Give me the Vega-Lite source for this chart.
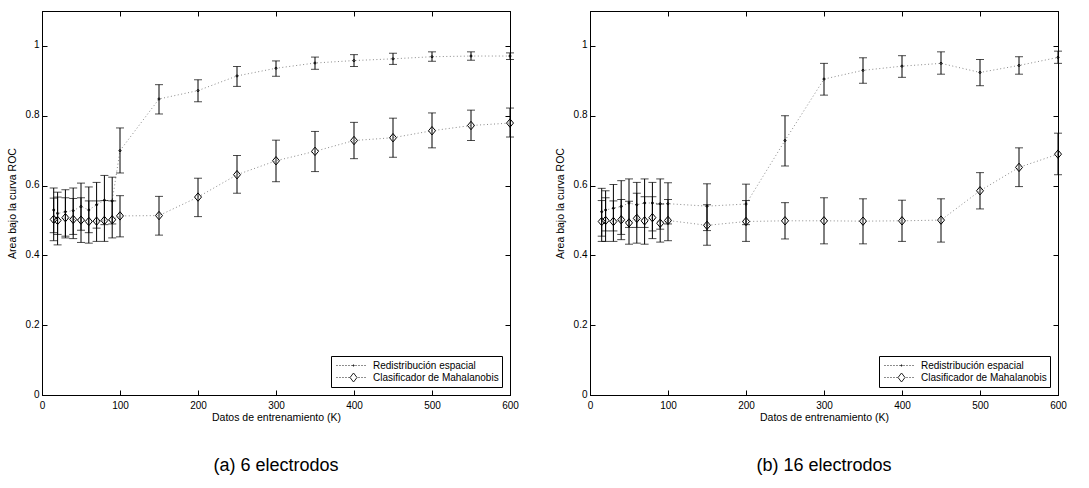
{
  "$schema": "https://vega.github.io/schema/vega-lite/v6.json",
  "padding": {"left": 6, "top": 10, "right": 4, "bottom": 0},
  "background": "white",
  "config": {
    "font": "Liberation Sans",
    "view": {"stroke": "black", "strokeWidth": 1},
    "axis": {
      "domainColor": "black", "domainWidth": 1, "tickColor": "black", "tickWidth": 1,
      "labelColor": "black", "titleColor": "black", "labelFontSize": 10, "titleFontSize": 10.5,
      "titleFontWeight": "normal", "tickSize": -5, "grid": false, "labelPadding": 5, "titlePadding": 3
    },
    "axisLeft": {"labelPadding": 8, "titlePadding": 8, "labelOffset": -1},
    "axisBottom": {"labelPadding": 10, "titlePadding": 2},
    "legend": {"orient": "bottom-right", "title": null, "offset": 8, "padding": 3, "strokeColor": "black", "fillColor": "white", "cornerRadius": 0,
      "labelFontSize": 10, "labelColor": "black", "labelLimit": 300, "symbolSize": 144, "labelOffset": 26, "rowPadding": 0,
      "symbolStrokeWidth": 1, "symbolStrokeColor": "#222", "symbolFillColor": "transparent"},
    "title": {"fontSize": 18, "fontWeight": "normal", "color": "black", "orient": "bottom", "offset": 34}
  },
  "data": {"values": [
    {"panel":"a","serie":"Redistribución espacial","x":15,"y":0.530,"lo":0.465,"hi":0.593},
    {"panel":"a","serie":"Redistribución espacial","x":20,"y":0.520,"lo":0.460,"hi":0.581},
    {"panel":"a","serie":"Redistribución espacial","x":30,"y":0.525,"lo":0.455,"hi":0.588},
    {"panel":"a","serie":"Redistribución espacial","x":40,"y":0.528,"lo":0.460,"hi":0.593},
    {"panel":"a","serie":"Redistribución espacial","x":50,"y":0.540,"lo":0.472,"hi":0.607},
    {"panel":"a","serie":"Redistribución espacial","x":60,"y":0.530,"lo":0.465,"hi":0.596},
    {"panel":"a","serie":"Redistribución espacial","x":70,"y":0.545,"lo":0.478,"hi":0.609},
    {"panel":"a","serie":"Redistribución espacial","x":80,"y":0.558,"lo":0.488,"hi":0.629},
    {"panel":"a","serie":"Redistribución espacial","x":90,"y":0.556,"lo":0.490,"hi":0.624},
    {"panel":"a","serie":"Redistribución espacial","x":100,"y":0.700,"lo":0.636,"hi":0.765},
    {"panel":"a","serie":"Redistribución espacial","x":150,"y":0.848,"lo":0.805,"hi":0.889},
    {"panel":"a","serie":"Redistribución espacial","x":200,"y":0.872,"lo":0.840,"hi":0.903},
    {"panel":"a","serie":"Redistribución espacial","x":250,"y":0.914,"lo":0.884,"hi":0.941},
    {"panel":"a","serie":"Redistribución espacial","x":300,"y":0.936,"lo":0.913,"hi":0.957},
    {"panel":"a","serie":"Redistribución espacial","x":350,"y":0.951,"lo":0.933,"hi":0.968},
    {"panel":"a","serie":"Redistribución espacial","x":400,"y":0.958,"lo":0.941,"hi":0.975},
    {"panel":"a","serie":"Redistribución espacial","x":450,"y":0.963,"lo":0.947,"hi":0.979},
    {"panel":"a","serie":"Redistribución espacial","x":500,"y":0.969,"lo":0.956,"hi":0.983},
    {"panel":"a","serie":"Redistribución espacial","x":550,"y":0.971,"lo":0.959,"hi":0.983},
    {"panel":"a","serie":"Redistribución espacial","x":600,"y":0.971,"lo":0.961,"hi":0.980},
    {"panel":"a","serie":"Clasificador de Mahalanobis","x":15,"y":0.503,"lo":0.442,"hi":0.564},
    {"panel":"a","serie":"Clasificador de Mahalanobis","x":20,"y":0.500,"lo":0.430,"hi":0.567},
    {"panel":"a","serie":"Clasificador de Mahalanobis","x":30,"y":0.508,"lo":0.450,"hi":0.565},
    {"panel":"a","serie":"Clasificador de Mahalanobis","x":40,"y":0.503,"lo":0.448,"hi":0.563},
    {"panel":"a","serie":"Clasificador de Mahalanobis","x":50,"y":0.501,"lo":0.437,"hi":0.565},
    {"panel":"a","serie":"Clasificador de Mahalanobis","x":60,"y":0.497,"lo":0.435,"hi":0.556},
    {"panel":"a","serie":"Clasificador de Mahalanobis","x":70,"y":0.498,"lo":0.440,"hi":0.556},
    {"panel":"a","serie":"Clasificador de Mahalanobis","x":80,"y":0.500,"lo":0.440,"hi":0.557},
    {"panel":"a","serie":"Clasificador de Mahalanobis","x":90,"y":0.502,"lo":0.450,"hi":0.556},
    {"panel":"a","serie":"Clasificador de Mahalanobis","x":100,"y":0.513,"lo":0.453,"hi":0.571},
    {"panel":"a","serie":"Clasificador de Mahalanobis","x":150,"y":0.514,"lo":0.458,"hi":0.569},
    {"panel":"a","serie":"Clasificador de Mahalanobis","x":200,"y":0.567,"lo":0.511,"hi":0.621},
    {"panel":"a","serie":"Clasificador de Mahalanobis","x":250,"y":0.631,"lo":0.578,"hi":0.686},
    {"panel":"a","serie":"Clasificador de Mahalanobis","x":300,"y":0.671,"lo":0.611,"hi":0.730},
    {"panel":"a","serie":"Clasificador de Mahalanobis","x":350,"y":0.698,"lo":0.640,"hi":0.755},
    {"panel":"a","serie":"Clasificador de Mahalanobis","x":400,"y":0.729,"lo":0.677,"hi":0.781},
    {"panel":"a","serie":"Clasificador de Mahalanobis","x":450,"y":0.737,"lo":0.681,"hi":0.793},
    {"panel":"a","serie":"Clasificador de Mahalanobis","x":500,"y":0.757,"lo":0.708,"hi":0.808},
    {"panel":"a","serie":"Clasificador de Mahalanobis","x":550,"y":0.772,"lo":0.729,"hi":0.816},
    {"panel":"a","serie":"Clasificador de Mahalanobis","x":600,"y":0.779,"lo":0.739,"hi":0.822},
    {"panel":"b","serie":"Redistribución espacial","x":15,"y":0.525,"lo":0.455,"hi":0.592},
    {"panel":"b","serie":"Redistribución espacial","x":20,"y":0.530,"lo":0.470,"hi":0.585},
    {"panel":"b","serie":"Redistribución espacial","x":30,"y":0.535,"lo":0.470,"hi":0.603},
    {"panel":"b","serie":"Redistribución espacial","x":40,"y":0.540,"lo":0.460,"hi":0.614},
    {"panel":"b","serie":"Redistribución espacial","x":50,"y":0.550,"lo":0.480,"hi":0.619},
    {"panel":"b","serie":"Redistribución espacial","x":60,"y":0.545,"lo":0.480,"hi":0.609},
    {"panel":"b","serie":"Redistribución espacial","x":70,"y":0.550,"lo":0.480,"hi":0.619},
    {"panel":"b","serie":"Redistribución espacial","x":80,"y":0.550,"lo":0.470,"hi":0.609},
    {"panel":"b","serie":"Redistribución espacial","x":90,"y":0.548,"lo":0.475,"hi":0.619},
    {"panel":"b","serie":"Redistribución espacial","x":100,"y":0.548,"lo":0.490,"hi":0.608},
    {"panel":"b","serie":"Redistribución espacial","x":150,"y":0.541,"lo":0.471,"hi":0.605},
    {"panel":"b","serie":"Redistribución espacial","x":200,"y":0.547,"lo":0.488,"hi":0.604},
    {"panel":"b","serie":"Redistribución espacial","x":250,"y":0.729,"lo":0.656,"hi":0.800},
    {"panel":"b","serie":"Redistribución espacial","x":300,"y":0.905,"lo":0.859,"hi":0.950},
    {"panel":"b","serie":"Redistribución espacial","x":350,"y":0.930,"lo":0.893,"hi":0.966},
    {"panel":"b","serie":"Redistribución espacial","x":400,"y":0.942,"lo":0.910,"hi":0.972},
    {"panel":"b","serie":"Redistribución espacial","x":450,"y":0.950,"lo":0.919,"hi":0.983},
    {"panel":"b","serie":"Redistribución espacial","x":500,"y":0.924,"lo":0.886,"hi":0.961},
    {"panel":"b","serie":"Redistribución espacial","x":550,"y":0.944,"lo":0.919,"hi":0.969},
    {"panel":"b","serie":"Redistribución espacial","x":600,"y":0.967,"lo":0.950,"hi":0.985},
    {"panel":"b","serie":"Clasificador de Mahalanobis","x":15,"y":0.497,"lo":0.440,"hi":0.557},
    {"panel":"b","serie":"Clasificador de Mahalanobis","x":20,"y":0.500,"lo":0.440,"hi":0.565},
    {"panel":"b","serie":"Clasificador de Mahalanobis","x":30,"y":0.497,"lo":0.440,"hi":0.556},
    {"panel":"b","serie":"Clasificador de Mahalanobis","x":40,"y":0.502,"lo":0.445,"hi":0.560},
    {"panel":"b","serie":"Clasificador de Mahalanobis","x":50,"y":0.493,"lo":0.432,"hi":0.555},
    {"panel":"b","serie":"Clasificador de Mahalanobis","x":60,"y":0.506,"lo":0.435,"hi":0.578},
    {"panel":"b","serie":"Clasificador de Mahalanobis","x":70,"y":0.499,"lo":0.432,"hi":0.568},
    {"panel":"b","serie":"Clasificador de Mahalanobis","x":80,"y":0.508,"lo":0.448,"hi":0.568},
    {"panel":"b","serie":"Clasificador de Mahalanobis","x":90,"y":0.492,"lo":0.438,"hi":0.547},
    {"panel":"b","serie":"Clasificador de Mahalanobis","x":100,"y":0.500,"lo":0.442,"hi":0.560},
    {"panel":"b","serie":"Clasificador de Mahalanobis","x":150,"y":0.486,"lo":0.429,"hi":0.545},
    {"panel":"b","serie":"Clasificador de Mahalanobis","x":200,"y":0.497,"lo":0.440,"hi":0.557},
    {"panel":"b","serie":"Clasificador de Mahalanobis","x":250,"y":0.499,"lo":0.447,"hi":0.551},
    {"panel":"b","serie":"Clasificador de Mahalanobis","x":300,"y":0.499,"lo":0.433,"hi":0.565},
    {"panel":"b","serie":"Clasificador de Mahalanobis","x":350,"y":0.498,"lo":0.433,"hi":0.562},
    {"panel":"b","serie":"Clasificador de Mahalanobis","x":400,"y":0.499,"lo":0.440,"hi":0.558},
    {"panel":"b","serie":"Clasificador de Mahalanobis","x":450,"y":0.501,"lo":0.438,"hi":0.562},
    {"panel":"b","serie":"Clasificador de Mahalanobis","x":500,"y":0.585,"lo":0.533,"hi":0.637},
    {"panel":"b","serie":"Clasificador de Mahalanobis","x":550,"y":0.652,"lo":0.597,"hi":0.708},
    {"panel":"b","serie":"Clasificador de Mahalanobis","x":600,"y":0.690,"lo":0.631,"hi":0.750}
  ]},
  "spacing": 35,
  "resolve": {"scale": {"x": "independent", "y": "independent", "shape": "independent"}, "legend": {"shape": "independent"}},
  "hconcat": [
    {
      "title": {"text": "(a) 6 electrodos"},
      "width": 468, "height": 384,
      "transform": [{"filter": "datum.panel === 'a'"}],
      "resolve": {"axis": {"x": "independent", "y": "independent"}, "scale": {"shape": "independent"}, "legend": {"shape": "independent"}},
      "layer": [
        {
          "mark": {"type": "line", "color": "#8a8a8a", "strokeDash": [1, 2.5], "strokeWidth": 1},
          "encoding": {
            "x": {"field": "x", "type": "quantitative", "scale": {"domain": [0, 600], "nice": false}, "axis": {"orient": "top", "values": [0,100,200,300,400,500,600], "labels": false, "title": null}},
            "y": {"field": "y", "type": "quantitative", "scale": {"domain": [0, 1.1], "nice": false, "zero": false}, "axis": {"orient": "right", "values": [0,0.2,0.4,0.6,0.8,1], "labels": false, "title": null}},
            "detail": {"field": "serie", "type": "nominal"}
          }
        },
        {
          "mark": {"type": "errorbar", "color": "black", "ticks": {"size": 8, "color": "black"}, "rule": {"strokeWidth": 1}},
          "encoding": {
            "x": {"field": "x", "type": "quantitative", "axis": null},
            "y": {"field": "lo", "type": "quantitative", "axis": null},
            "y2": {"field": "hi"},
            "detail": {"field": "serie", "type": "nominal"}
          }
        },
        {
          "mark": {"type": "point", "stroke": "black", "strokeWidth": 1, "opacity": 1, "fill": "transparent", "filled": false, "size": 49},
          "encoding": {
            "x": {"field": "x", "type": "quantitative", "axis": {"orient": "bottom", "values": [0,100,200,300,400,500,600], "labelFlush": false, "title": "Datos de entrenamiento (K)"}},
            "y": {"field": "y", "type": "quantitative", "axis": {"orient": "left", "values": [0,0.2,0.4,0.6,0.8,1], "format": "~g", "title": "Area bajo la curva ROC"}},
            "shape": {"field": "serie", "type": "nominal", "scale": {"domain": ["Redistribución espacial", "Clasificador de Mahalanobis"], "range": ["M-0.3,0a0.3,0.3 0 1,0 0.6,0a0.3,0.3 0 1,0 -0.6,0Z", "M0,-1.2L1,0L0,1.2L-1,0Z"]}, "legend": null}
          }
        },
        {
          "transform": [{"filter": "false"}],
          "mark": {"type": "point", "stroke": "#222", "strokeWidth": 1, "opacity": 1, "filled": false},
          "encoding": {
            "shape": {"field": "serie", "type": "nominal", "scale": {"domain": ["Redistribución espacial", "Clasificador de Mahalanobis"], "range": [
              "M-0.67,0h0.17M-0.17,0h0.17M0.33,0h0.17M0.83,0h0.17M1.33,0h0.17M1.83,0h0.17M2.5,0h0.17M3,0h0.17M3.5,0h0.17M4,0h0.17M2,0h0.34M2.17,-0.17v0.34",
              "M-0.67,0h0.17M-0.17,0h0.17M0.33,0h0.17M0.83,0h0.17M1.33,0h0.17M3,0h0.17M3.5,0h0.17M4,0h0.17M2.17,-0.75L2.75,0L2.17,0.75L1.59,0Z"]},
              "legend": {}}
          }
        }
      ]
    },
    {
      "title": {"text": "(b) 16 electrodos"},
      "width": 468, "height": 384,
      "transform": [{"filter": "datum.panel === 'b'"}],
      "resolve": {"axis": {"x": "independent", "y": "independent"}, "scale": {"shape": "independent"}, "legend": {"shape": "independent"}},
      "layer": [
        {
          "mark": {"type": "line", "color": "#8a8a8a", "strokeDash": [1, 2.5], "strokeWidth": 1},
          "encoding": {
            "x": {"field": "x", "type": "quantitative", "scale": {"domain": [0, 600], "nice": false}, "axis": {"orient": "top", "values": [0,100,200,300,400,500,600], "labels": false, "title": null}},
            "y": {"field": "y", "type": "quantitative", "scale": {"domain": [0, 1.1], "nice": false, "zero": false}, "axis": {"orient": "right", "values": [0,0.2,0.4,0.6,0.8,1], "labels": false, "title": null}},
            "detail": {"field": "serie", "type": "nominal"}
          }
        },
        {
          "mark": {"type": "errorbar", "color": "black", "ticks": {"size": 8, "color": "black"}, "rule": {"strokeWidth": 1}},
          "encoding": {
            "x": {"field": "x", "type": "quantitative", "axis": null},
            "y": {"field": "lo", "type": "quantitative", "axis": null},
            "y2": {"field": "hi"},
            "detail": {"field": "serie", "type": "nominal"}
          }
        },
        {
          "mark": {"type": "point", "stroke": "black", "strokeWidth": 1, "opacity": 1, "fill": "transparent", "filled": false, "size": 49},
          "encoding": {
            "x": {"field": "x", "type": "quantitative", "axis": {"orient": "bottom", "values": [0,100,200,300,400,500,600], "labelFlush": false, "title": "Datos de entrenamiento (K)"}},
            "y": {"field": "y", "type": "quantitative", "axis": {"orient": "left", "values": [0,0.2,0.4,0.6,0.8,1], "format": "~g", "title": "Area bajo la curva ROC"}},
            "shape": {"field": "serie", "type": "nominal", "scale": {"domain": ["Redistribución espacial", "Clasificador de Mahalanobis"], "range": ["M-0.3,0a0.3,0.3 0 1,0 0.6,0a0.3,0.3 0 1,0 -0.6,0Z", "M0,-1.2L1,0L0,1.2L-1,0Z"]}, "legend": null}
          }
        },
        {
          "transform": [{"filter": "false"}],
          "mark": {"type": "point", "stroke": "#222", "strokeWidth": 1, "opacity": 1, "filled": false},
          "encoding": {
            "shape": {"field": "serie", "type": "nominal", "scale": {"domain": ["Redistribución espacial", "Clasificador de Mahalanobis"], "range": [
              "M-0.67,0h0.17M-0.17,0h0.17M0.33,0h0.17M0.83,0h0.17M1.33,0h0.17M1.83,0h0.17M2.5,0h0.17M3,0h0.17M3.5,0h0.17M4,0h0.17M2,0h0.34M2.17,-0.17v0.34",
              "M-0.67,0h0.17M-0.17,0h0.17M0.33,0h0.17M0.83,0h0.17M1.33,0h0.17M3,0h0.17M3.5,0h0.17M4,0h0.17M2.17,-0.75L2.75,0L2.17,0.75L1.59,0Z"]},
              "legend": {}}
          }
        }
      ]
    }
  ]
}
